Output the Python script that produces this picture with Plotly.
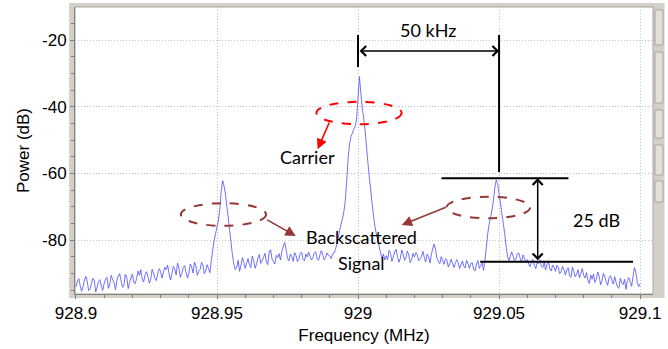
import numpy as np
import plotly.graph_objects as go

# Spectrum sample grid: 928.9 .. 929.1 MHz, 0.5 kHz steps (401 bins)
freq_start_mhz = 928.9
freq_step_mhz = 0.0005
power_db = [
    # 928.900 - 928.9095
    -94.1, -92.3, -91.6, -93.8, -95.4, -94.0, -92.0, -90.9, -92.5, -95.2,
    -94.8, -93.0, -91.5, -92.2, -95.6, -94.1, -92.4, -91.9, -93.9, -95.1,
    # 928.910
    -93.0, -91.7, -91.2, -94.5, -93.1, -90.6, -91.9, -92.8, -94.9, -92.1,
    -90.8, -90.1, -92.4, -94.2, -93.5, -90.3, -91.2, -94.6, -92.7, -91.4,
    # 928.920
    -90.2, -92.8, -93.1, -91.5, -89.3, -90.6, -88.9, -91.7, -92.6, -90.4,
    -89.5, -91.0, -93.0, -91.8, -88.8, -89.9, -91.6, -92.2, -90.0, -88.6,
    # 928.930
    -89.4, -91.4, -89.8, -88.2, -88.9, -87.5, -90.1, -92.0, -90.3, -87.9,
    -88.6, -90.5, -86.9, -88.4, -91.2, -90.1, -88.3, -87.7, -89.6, -91.4,
    # 928.940 (lower backscatter sideband rises)
    -90.2, -87.2, -88.1, -89.9, -86.6, -87.8, -90.6, -89.4, -88.9, -86.7,
    -87.5, -90.1, -89.2, -87.4, -88.6, -89.8, -86.0, -83.0, -80.2, -78.1,
    # 928.950
    -76.0, -74.1, -70.8, -65.2, -62.2, -63.8, -66.3, -70.1, -73.4, -77.2,
    -81.0, -84.7, -87.3, -88.9, -88.2, -86.1, -89.4, -87.6, -85.3, -86.7,
    # 928.960
    -88.5, -87.0, -85.6, -87.4, -88.3, -84.8, -86.1, -88.5, -87.2, -85.4,
    -84.4, -87.0, -86.3, -85.2, -84.0, -86.6, -87.4, -83.6, -82.9, -85.7,
    # 928.970
    -86.4, -87.2, -84.6, -85.3, -84.1, -86.0, -83.4, -81.9, -80.7, -82.8,
    -85.5, -86.3, -84.2, -85.0, -86.4, -83.8, -84.7, -86.5, -85.9, -84.0,
    # 928.980
    -83.7, -85.8, -86.3, -84.2, -85.1, -83.6, -84.9, -86.0, -85.3, -83.9,
    -83.5, -85.7, -86.1, -84.4, -83.2, -84.6, -86.0, -85.2, -83.9, -84.6,
    # 928.990 (carrier skirt)
    -84.8, -85.6, -84.1, -83.9, -82.8, -81.2, -79.3, -77.0, -75.2, -73.6,
    -71.4, -68.1, -62.0, -55.3, -51.2, -49.0, -47.9, -46.8, -45.9, -43.7,
    # 929.000 (carrier peak)
    -37.2, -31.0, -36.1, -40.3, -43.4, -47.1, -52.0, -56.8, -61.2, -65.0,
    -69.1, -72.8, -76.0, -78.2, -80.1, -82.0, -83.9, -85.4, -84.2, -86.0,
    # 929.010
    -84.7, -85.9, -83.1, -84.0, -86.4, -85.1, -83.6, -82.8, -84.9, -86.7,
    -85.5, -83.0, -84.3, -86.1, -85.2, -83.3, -84.6, -86.8, -85.9, -84.0,
    # 929.020
    -85.1, -83.8, -84.4, -86.2, -85.7, -84.9, -83.4, -85.3, -86.6, -84.2,
    -85.0, -86.9, -84.3, -82.5, -81.2, -83.1, -85.6, -86.4, -87.1, -85.0,
    # 929.030
    -86.2, -87.3, -85.6, -86.0, -88.1, -87.2, -85.8, -86.9, -88.3, -87.0,
    -85.9, -86.7, -88.6, -87.5, -86.3, -87.9, -88.4, -86.1, -87.2, -88.5,
    # 929.040 (upper backscatter sideband)
    -87.0, -86.8, -88.9, -89.3, -87.2, -86.2, -88.5, -87.6, -86.9, -89.1,
    -86.0, -82.1, -78.0, -75.1, -73.2, -71.0, -68.2, -64.3, -62.0, -63.1,
    # 929.050
    -66.1, -69.0, -72.2, -75.0, -78.1, -81.8, -84.9, -86.2, -84.8, -83.6,
    -84.9, -86.2, -85.7, -84.1, -83.9, -85.5, -86.8, -84.5, -85.4, -86.9,
    # 929.060
    -85.9, -87.2, -88.0, -86.4, -85.8, -87.5, -88.6, -86.9, -87.1, -85.9,
    -87.8, -88.3, -86.6, -89.0, -87.4, -86.2, -88.7, -89.3, -87.5, -88.1,
    # 929.070
    -89.4, -87.6, -88.2, -90.1, -89.5, -87.9, -88.8, -90.5, -89.0, -88.3,
    -90.8, -91.2, -88.1, -89.5, -91.0, -90.2, -88.9, -91.3, -90.0, -88.6,
    # 929.080
    -90.6, -91.4, -89.8, -92.1, -93.0, -90.5, -91.8, -90.2, -92.7, -91.6,
    -89.6, -90.9, -93.4, -92.3, -90.0, -91.1, -92.5, -93.6, -91.3, -90.7,
    # 929.090
    -92.0, -93.2, -91.0, -92.8, -94.1, -94.5, -91.5, -92.9, -93.4, -91.8,
    -94.8, -92.2, -91.3, -92.6, -93.9, -91.0, -88.3, -89.6, -92.7, -94.0,
    # 929.100
    -93.1,
]
freq_mhz = np.round(freq_start_mhz + freq_step_mhz * np.arange(len(power_db)), 4)

x_tick_vals = [928.9, 928.95, 929.0, 929.05, 929.1]
x_tick_text = ["928.9", "928.95", "929", "929.05", "929.1"]
y_tick_vals = [-20, -40, -60, -80]
y_tick_text = ["-20", "-40", "-60", "-80"]

carrier_mhz = 929.0
sideband_mhz = 929.05
spacing_label = "50 kHz"
level_top_db = -61.5
level_gap_db = 25
level_label = f"{level_gap_db} dB"

AX_FONT = dict(family="Liberation Sans, Arial, sans-serif", size=17, color="#000000")
NOTE_FONT = dict(family="Lato, Open Sans, sans-serif", size=18, color="#000000")
FRAME = "#d4d0c8"
BROWN = "#953735"
GRID = "#c2c2c2"

fig = go.Figure()
fig.add_trace(go.Scatter(
    x=freq_mhz, y=power_db, mode="lines",
    line=dict(color="#4d4dff", width=0.8, simplify=False),
    showlegend=False, hoverinfo="x+y",
))

shapes = []
# window frame around the plotting area
shapes.append(dict(type="rect", xref="paper", yref="paper", layer="below",
                   x0=-0.0103, x1=1.02, y0=-0.0139, y1=1.0139,
                   fillcolor=FRAME, line=dict(width=0)))
shapes.append(dict(type="rect", xref="paper", yref="paper", layer="below",
                   x0=0, x1=1, y0=0, y1=1,
                   fillcolor="#ffffff", line=dict(color="#a9a59d", width=1)))
# scrollbar-like buttons at the right edge
for top_px, bot_px in [(10, 45), (52, 103), (110, 138), (145, 175), (181, 202)]:
    shapes.append(dict(type="rect", xref="paper", yref="paper", layer="below",
                       x0=(659 - 75) / 582, x1=(667 - 75) / 582,
                       y0=(294 - bot_px) / 287, y1=(294 - top_px) / 287,
                       fillcolor="#e3e0da", line=dict(color="#a8a49c", width=1)))

black = dict(color="#000000", width=2)
# 50 kHz spacing markers
shapes.append(dict(type="line", x0=carrier_mhz, x1=carrier_mhz, y0=-18.5, y1=-28.1, line=black))
shapes.append(dict(type="line", x0=sideband_mhz, x1=sideband_mhz, y0=-18.5, y1=-59.6, line=black))
# 25 dB level markers
level_bot_db = level_top_db - level_gap_db
shapes.append(dict(type="line", x0=929.0296, x1=929.0746, y0=level_top_db, y1=level_top_db, line=black))
shapes.append(dict(type="line", x0=929.0433, x1=929.0975, y0=level_bot_db, y1=level_bot_db, line=black))

# dashed ellipses around the carrier and the two sidebands
def ellipse(cx, cy, rx, ry, color):
    return dict(type="circle", x0=cx - rx, x1=cx + rx, y0=cy - ry, y1=cy + ry,
                line=dict(color=color, width=2, dash="dash"))

shapes.append(ellipse(929.00035, -41.9, 0.0151, 3.36, "#ff0000"))
shapes.append(ellipse(928.9523, -72.35, 0.0151, 3.4, BROWN))
shapes.append(ellipse(929.0462, -70.25, 0.0148, 3.24, BROWN))

annotations = []

def arrow(x_head, y_head, x_tail, y_tail, color, head=2, both=False, width=2, size=1.0):
    a = dict(x=x_head, y=y_head, ax=x_tail, ay=y_tail, xref="x", yref="y",
             axref="x", ayref="y", text="", showarrow=True, arrowhead=head,
             arrowsize=size, arrowwidth=width, arrowcolor=color, standoff=0,
             startstandoff=0)
    if both:
        a.update(arrowside="end+start", startarrowhead=head, startarrowsize=size)
    return a

annotations.append(arrow(sideband_mhz, -23.3, carrier_mhz, -23.3, "#000000", head=4, both=True, width=1.5, size=1.3))
annotations.append(arrow(929.0637, level_top_db, 929.0637, level_bot_db, "#000000", head=4, both=True, width=1.5, size=1.3))
annotations.append(arrow(928.98567, -52.8, 928.99003, -44.3, "#ff0000", head=2, width=1.6, size=1.3))
annotations.append(arrow(928.97792, -78.8, 928.96725, -73.7, BROWN, head=2, width=1.6, size=1.3))
annotations.append(arrow(929.01549, -75.5, 929.03169, -70.0, BROWN, head=2, width=1.6, size=1.3))

def label(x, y, text):
    return dict(x=x, y=y, xref="x", yref="y", text=text, showarrow=False,
                font=NOTE_FONT, xanchor="center", yanchor="middle")

annotations.append(label(929.02465, -17.0, spacing_label))
annotations.append(label(929.0845, -74.0, level_label))
annotations.append(label(928.98222, -55.1, "Carrier"))
annotations.append(label(929.00106, -79.1, "Backscattered"))
annotations.append(label(929.00106, -86.9, "Signal"))

fig.update_layout(
    width=668, height=349,
    margin=dict(l=75, r=11, t=7, b=55),
    paper_bgcolor="#ffffff", plot_bgcolor="rgba(0,0,0,0)",
    shapes=shapes, annotations=annotations,
    xaxis=dict(
        range=[928.89965, 929.10458], tickvals=x_tick_vals, ticktext=x_tick_text,
        tickfont=AX_FONT, ticks="outside", ticklen=4, tickcolor="#808080",
        minor=dict(dtick=0.01, tick0=928.9, ticks="outside", ticklen=3,
                   tickcolor="#808080", showgrid=False),
        showgrid=True, gridcolor=GRID, griddash="1px,2px", gridwidth=1,
        showline=True, linecolor="#808080", linewidth=1, zeroline=False,
        title=dict(text="Frequency (MHz)", font=AX_FONT, standoff=6),
    ),
    yaxis=dict(
        range=[-96.2, -10.1], tickvals=y_tick_vals, ticktext=y_tick_text,
        tickfont=AX_FONT, ticks="outside", ticklen=4, tickcolor="#808080",
        minor=dict(dtick=5, tick0=-100, ticks="outside", ticklen=3,
                   tickcolor="#808080", showgrid=False),
        showgrid=True, gridcolor=GRID, griddash="1px,2px", gridwidth=1,
        showline=True, linecolor="#808080", linewidth=1, zeroline=False,
        title=dict(text="Power (dB)", font=AX_FONT, standoff=8),
    ),
)

fig.write_html("out.html")
